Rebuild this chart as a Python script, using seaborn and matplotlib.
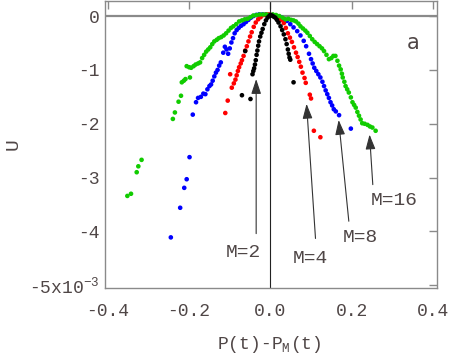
import numpy as np
import pandas as pd
import matplotlib
matplotlib.use("Agg")
import matplotlib.pyplot as plt
import seaborn as sns

# --- data (x = P(t)-P_M(t), y = U in units of 1e-3) ---
m2_x = [-0.070, -0.062, -0.049, -0.044, -0.042, -0.040, -0.038, -0.036, -0.034, -0.032, -0.030,
        -0.028, -0.025, -0.022, -0.019, -0.015, -0.011, -0.007, -0.003, 0.000, 0.004, 0.008,
        0.012, 0.016, 0.020, 0.025, 0.029, 0.033, 0.037, 0.040, 0.043, 0.045, 0.047, 0.049, 0.057]
m2_y = [-1.47, -0.65, -1.54, -1.08, -1.02, -0.97, -0.90, -0.82, -0.72, -0.64, -0.55,
        -0.47, -0.38, -0.31, -0.24, -0.15, -0.08, -0.03, 0.00, 0.02, 0.01, -0.01,
        -0.03, -0.07, -0.12, -0.19, -0.26, -0.34, -0.43, -0.52, -0.62, -0.70, -0.77, -0.81, -1.23]

m4_x = [-0.111, -0.105, -0.099, -0.095, -0.090, -0.086, -0.083, -0.080, -0.077, -0.073, -0.070,
        -0.066, -0.062, -0.058, -0.054, -0.050, -0.046, -0.041, -0.036, -0.030, -0.024, -0.017,
        -0.010, -0.004, 0.004, 0.012, 0.020, 0.027, 0.033, 0.038, 0.043, 0.048, 0.053, 0.058,
        0.063, 0.067, 0.071, 0.075, 0.079, 0.084, 0.087, 0.097, 0.100, 0.107, 0.123]
m4_y = [-1.80, -1.57, -1.08, -1.33, -1.25, -1.18, -1.10, -1.02, -0.95, -0.88, -0.82,
        -0.74, -0.64, -0.56, -0.47, -0.38, -0.30, -0.20, -0.12, -0.06, -0.02, 0.02,
        0.03, 0.03, 0.02, 0.00, -0.03, -0.07, -0.13, -0.22, -0.32, -0.40, -0.48, -0.58,
        -0.68, -0.76, -0.85, -0.94, -1.05, -1.15, -1.24, -1.46, -1.53, -2.13, -2.25]

m8_x = [-0.245, -0.222, -0.212, -0.206, -0.199, -0.191, -0.183, -0.178, -0.171, -0.165, -0.160,
        -0.155, -0.150, -0.146, -0.142, -0.138, -0.134, -0.130, -0.126, -0.122, -0.116, -0.112,
        -0.108, -0.104, -0.100, -0.096, -0.092, -0.088, -0.083, -0.078, -0.072, -0.066, -0.060,
        -0.054, -0.048, -0.042, -0.035, -0.028, -0.020, -0.012, -0.005, 0.005, 0.013, 0.020,
        0.027, 0.034, 0.041, 0.049, 0.057, 0.066, 0.074, 0.082, 0.088, 0.095, 0.100, 0.104,
        0.108, 0.113, 0.118, 0.123, 0.128, 0.132, 0.136, 0.140, 0.144, 0.148, 0.152, 0.156,
        0.161, 0.169, 0.198]
m8_y = [-4.11, -3.56, -3.19, -3.03, -2.62, -1.83, -1.60, -1.52, -1.50, -1.44, -1.45,
        -1.36, -1.30, -1.27, -1.20, -1.12, -1.05, -1.00, -0.92, -0.86, -0.68, -0.57,
        -0.62, -0.70, -0.60, -0.49, -0.41, -0.32, -0.26, -0.22, -0.18, -0.15, -0.11,
        -0.07, -0.03, 0.00, 0.02, 0.03, 0.03, 0.03, 0.02, 0.02, 0.01, -0.01,
        -0.03, -0.06, -0.09, -0.15, -0.21, -0.28, -0.36, -0.46, -0.56, -0.70, -0.80, -0.88,
        -0.96, -1.02, -1.08, -1.14, -1.22, -1.30, -1.38, -1.45, -1.52, -1.60, -1.66, -1.73,
        -1.77, -1.84, -2.09]

m16_x = [-0.352, -0.343, -0.329, -0.325, -0.317, -0.240, -0.235, -0.226, -0.220, -0.218, -0.213,
         -0.209, -0.198, -0.206, -0.200, -0.195, -0.189, -0.184, -0.178, -0.173, -0.168, -0.163,
         -0.158, -0.153, -0.148, -0.143, -0.138, -0.132, -0.127, -0.121, -0.115, -0.109, -0.103,
         -0.097, -0.091, -0.084, -0.077, -0.070, -0.063, -0.056, -0.049, -0.042, -0.034, -0.026,
         -0.018, -0.010, -0.002, 0.006, 0.014, 0.022, 0.030, 0.037, 0.044, 0.051, 0.057, 0.063,
         0.069, 0.074, 0.080, 0.086, 0.091, 0.097, 0.103, 0.109, 0.115, 0.121, 0.127, 0.132,
         0.138, 0.144, 0.150, 0.155, 0.160, 0.165, 0.169, 0.173, 0.176, 0.178, 0.182, 0.185,
         0.189, 0.193, 0.198, 0.202, 0.206, 0.210, 0.214, 0.218, 0.222, 0.226, 0.232, 0.239,
         0.245, 0.251, 0.259]
m16_y = [-3.34, -3.30, -2.90, -2.79, -2.67, -1.91, -1.79, -1.59, -1.48, -1.23, -1.20,
         -1.17, -1.14, -0.93, -0.95, -0.96, -0.93, -0.90, -0.88, -0.86, -0.78, -0.72,
         -0.66, -0.62, -0.58, -0.52, -0.47, -0.44, -0.41, -0.39, -0.36, -0.32, -0.27,
         -0.22, -0.19, -0.15, -0.10, -0.08, -0.06, -0.05, -0.02, 0.01, 0.02, 0.03,
         0.03, 0.03, 0.02, 0.03, 0.02, 0.00, -0.03, -0.06, -0.05, -0.07, -0.08, -0.10,
         -0.14, -0.19, -0.23, -0.27, -0.31, -0.37, -0.43, -0.48, -0.52, -0.56, -0.60, -0.65,
         -0.72, -0.80, -0.78, -0.74, -0.74, -0.83, -0.92, -0.99, -1.07, -1.14, -1.22, -1.30,
         -1.36, -1.42, -1.51, -1.60, -1.65, -1.70, -1.78, -1.85, -1.92, -1.99, -2.00, -2.02,
         -2.05, -2.07, -2.13]

x_ticks = [-0.4, -0.2, 0.0, 0.2, 0.4]
x_ticklabels = ["-0.4", "-0.2", "0.0", "0.2", "0.4"]
y_ticks = [0, -1, -2, -3, -4, -5]
y_ticklabels = ["0", "-1", "-2", "-3", "-4", r"-5x10$^{-3}$"]

sns.set_style("white")
plt.rcParams["font.family"] = ["Liberation Mono", "DejaVu Sans"]
plt.rcParams["mathtext.fontset"] = "custom"
plt.rcParams["mathtext.rm"] = "Liberation Mono"
plt.rcParams["mathtext.it"] = "Liberation Mono"

txt_col = "#4f4646"
grey = "#8a8a8a"

# draw order: blue, red, green, black on top
df = pd.concat([
    pd.DataFrame({"x": m8_x, "y": m8_y, "M": "8"}),
    pd.DataFrame({"x": m4_x, "y": m4_y, "M": "4"}),
    pd.DataFrame({"x": m16_x, "y": m16_y, "M": "16"}),
    pd.DataFrame({"x": m2_x, "y": m2_y, "M": "2"}),
], ignore_index=True)
pal = {"2": "#000000", "4": "#ff0000", "8": "#0000ff", "16": "#11cc00"}

fig = plt.figure(figsize=(4.5, 3.56), dpi=100)
ax = fig.add_axes([105 / 450, 1 - 288 / 356, 332 / 450, 287 / 356])

ax.axhline(0, color=grey, lw=1.6, zorder=1)
ax.axvline(0, color="#222222", lw=0.8, zorder=1)

sns.scatterplot(data=df, x="x", y="y", hue="M", palette=pal, s=11,
                edgecolor="none", legend=False, ax=ax, zorder=3)

ax.set_xlim(-0.407, 0.41)
ax.set_ylim(-5.05, 0.28)
ax.set_xticks(x_ticks)
ax.set_xticklabels(x_ticklabels)
ax.set_yticks(y_ticks)
ax.set_yticklabels(y_ticklabels)
ax.tick_params(axis="both", direction="in", length=6, width=1, color=grey,
               labelcolor=txt_col, labelsize=13, top=True, right=True)
ax.tick_params(axis="x", pad=11)
ax.tick_params(axis="y", pad=4)
for sp in ax.spines.values():
    sp.set_color(grey)
    sp.set_linewidth(1)

ax.set_xlabel(r"P(t)-P$_{\rm M}$(t)", fontsize=13, color=txt_col)
ax.xaxis.set_label_coords(0.494, -0.16)
ax.set_ylabel("U", fontsize=14, color=txt_col)
ax.yaxis.set_label_coords(-0.25, 0.503)

# arrows with M labels
arrows = [("M=2", (-0.035, -1.17), (-0.035, -4.04), (-0.067, -4.39)),
          ("M=4", (0.089, -1.63), (0.111, -4.13), (0.099, -4.50)),
          ("M=8", (0.168, -1.93), (0.193, -3.81), (0.222, -4.11)),
          ("M=16", (0.244, -2.20), (0.252, -3.13), (0.304, -3.43))]
for lab, tip, tail, tpos in arrows:
    ax.annotate("", xy=tip, xytext=tail,
                arrowprops=dict(arrowstyle="-|>,head_length=0.9,head_width=0.3",
                                color="#333333", lw=0.8, shrinkA=0, shrinkB=0))
    ax.text(tpos[0], tpos[1], lab, ha="center", va="center", fontsize=14, color=txt_col)

ax.text(0.351, -0.5, "a", ha="center", va="center", fontsize=15,
        color=txt_col, family="DejaVu Sans")

fig.savefig("out.png", dpi=100)
